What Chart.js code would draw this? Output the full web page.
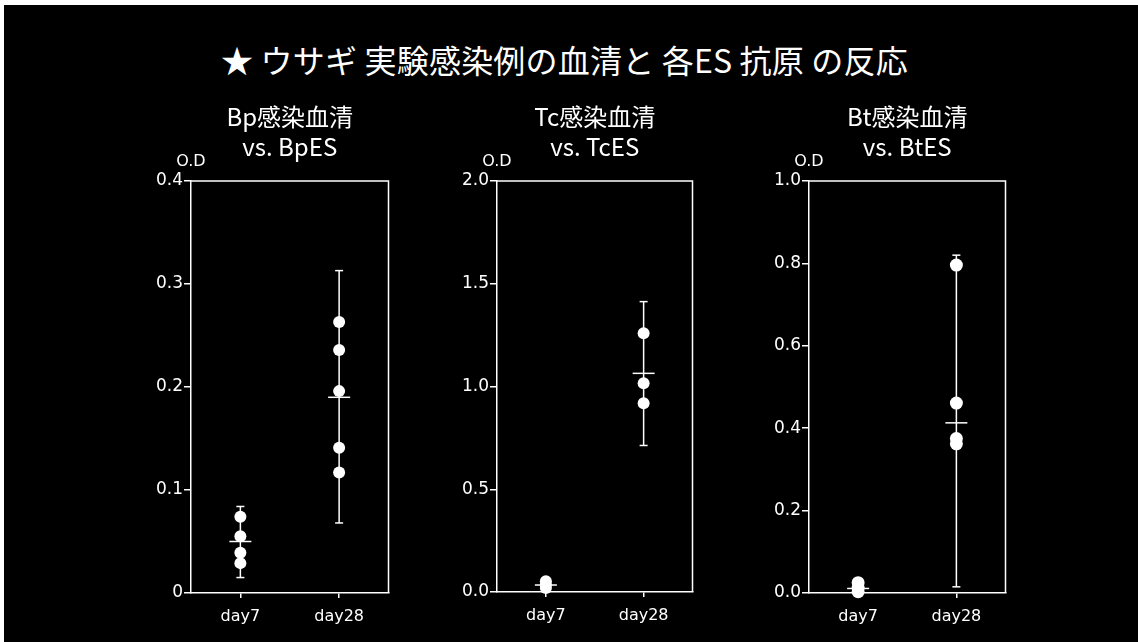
<!DOCTYPE html>
<html>
<head>
<meta charset="utf-8">
<script src="https://cdn.jsdelivr.net/npm/chart.js@4/dist/chart.umd.min.js"></script>
<style>
  html, body { margin: 0; padding: 0; background: #fff; width: 1138px; height: 642px; overflow: hidden; }
  #board { position: absolute; left: 4px; top: 5px; width: 1134px; height: 637px; background: #000; }
  #heading {
    position: absolute; left: 221px; top: 38px; white-space: nowrap;
    color: #fff; font: 32px/42px "Noto Sans CJK JP", sans-serif; letter-spacing: 0.2px;
  }
  canvas { position: absolute; }
</style>
</head>
<body>
<div id="board"></div>
<div id="heading">★ ウサギ 実験感染例の血清と 各ES 抗原 の反応</div>
<canvas id="bp" width="260" height="538" style="left:141px; top:90px;"></canvas>
<canvas id="tc" width="258" height="537" style="left:447px; top:90px;"></canvas>
<canvas id="bt" width="259" height="538" style="left:759px; top:90px;"></canvas>
<script>
const categories = ['day7', 'day28'];

// Bp serum vs. BpES
const bpTitle = ['Bp感染血清', 'vs. BpES'];
const bpDay7 = [0.074, 0.055, 0.039, 0.029];
const bpDay28 = [0.263, 0.236, 0.196, 0.141, 0.117];
const bpMean = [0.050, 0.190];
const bpLow = [0.015, 0.068];
const bpHigh = [0.084, 0.313];
const bpTicks = [0, 0.1, 0.2, 0.3, 0.4];
const bpTickLabels = ['0', '0.1', '0.2', '0.3', '0.4'];

// Tc serum vs. TcES
const tcTitle = ['Tc感染血清', 'vs. TcES'];
const tcDay7 = [0.052, 0.035, 0.020];
const tcDay28 = [1.259, 1.016, 0.918];
const tcMean = [0.034, 1.064];
const tcLow = [0.012, 0.713];
const tcHigh = [0.056, 1.413];
const tcTicks = [0, 0.5, 1.0, 1.5, 2.0];
const tcTickLabels = ['0.0', '0.5', '1.0', '1.5', '2.0'];

// Bt serum vs. BtES
const btTitle = ['Bt感染血清', 'vs. BtES'];
const btDay7 = [0.025, 0.012, 0.003];
const btDay28 = [0.796, 0.461, 0.375, 0.362];
const btMean = [0.011, 0.413];
const btLow = [0.002, 0.015];
const btHigh = [0.026, 0.820];
const btTicks = [0, 0.2, 0.4, 0.6, 0.8, 1.0];
const btTickLabels = ['0.0', '0.2', '0.4', '0.6', '0.8', '1.0'];

const WHITE = '#ffffff';

// Frame (top/right edges), panel heading and the "O.D" unit label
const panelDecor = {
  id: 'panelDecor',
  afterDraw(chart, args, opts) {
    const { ctx, chartArea: a } = chart;
    ctx.save();
    ctx.strokeStyle = WHITE;
    ctx.lineWidth = 1.5;
    ctx.beginPath();
    ctx.moveTo(a.left, a.top);
    ctx.lineTo(a.right, a.top);
    ctx.lineTo(a.right, a.bottom);
    ctx.stroke();
    ctx.fillStyle = WHITE;
    ctx.textAlign = 'center';
    ctx.textBaseline = 'middle';
    ctx.font = '24px "Noto Sans CJK JP", sans-serif';
    const cx = (a.left + a.right) / 2;
    opts.lines.forEach((t, i) => ctx.fillText(t, cx, a.top - 64 + i * 30));
    ctx.font = '16px "DejaVu Sans", sans-serif';
    ctx.fillText('O.D', a.left, a.top - 19);
    ctx.restore();
  }
};

function pointsOf(day7, day28) {
  return day7.map(v => ({ x: categories[0], y: v }))
    .concat(day28.map(v => ({ x: categories[1], y: v })));
}

function buildPanel(id, p) {
  const datasets = [];
  // mean markers (short horizontal bars)
  datasets.push({
    data: categories.map((c, i) => ({ x: c, y: p.mean[i] })),
    showLine: false, pointStyle: 'line', pointRadius: 11,
    pointBorderColor: WHITE, pointBorderWidth: 1.5, clip: false
  });
  // individual sera
  datasets.push({
    data: pointsOf(p.day7, p.day28),
    showLine: false, pointStyle: 'circle', pointRadius: p.radius,
    pointBackgroundColor: WHITE, pointBorderColor: WHITE, pointBorderWidth: 0, clip: false
  });
  // error bar caps
  datasets.push({
    data: categories.map((c, i) => ({ x: c, y: p.low[i] }))
      .concat(categories.map((c, i) => ({ x: c, y: p.high[i] }))),
    showLine: false, pointStyle: 'line', pointRadius: 4,
    pointBorderColor: WHITE, pointBorderWidth: 1.5, clip: false
  });
  // error bar stems
  categories.forEach((c, i) => {
    datasets.push({
      data: [{ x: c, y: p.low[i] }, { x: c, y: p.high[i] }],
      borderColor: WHITE, borderWidth: 1.5, pointRadius: 0, clip: false
    });
  });

  return new Chart(document.getElementById(id), {
    type: 'line',
    data: { labels: categories, datasets },
    options: {
      responsive: false,
      animation: false,
      events: [],
      layout: { padding: { top: 91, right: 10, left: 0, bottom: 0 } },
      plugins: {
        legend: { display: false },
        tooltip: { enabled: false },
        panelDecor: { lines: p.title }
      },
      scales: {
        x: {
          type: 'category',
          labels: categories,
          offset: true,
          afterFit(s) { s.height = 35; },
          border: { display: true, color: WHITE, width: 1.5 },
          grid: { display: true, offset: false, drawOnChartArea: false, tickLength: 5, color: WHITE, lineWidth: 1.5 },
          ticks: { color: WHITE, padding: 9, font: { family: '"DejaVu Sans", sans-serif', size: 16 } }
        },
        y: {
          min: p.ticks[0],
          max: p.ticks[p.ticks.length - 1],
          afterFit(s) { s.width = 50; },
          afterBuildTicks(s) { s.ticks = p.ticks.map(v => ({ value: v })); },
          border: { display: true, color: WHITE, width: 1.5, dash: p.leftDash || [] },
          grid: { display: true, drawOnChartArea: false, tickLength: 7, color: WHITE, lineWidth: 1.5 },
          ticks: {
            color: WHITE, padding: 1,
            font: { family: '"DejaVu Sans", sans-serif', size: 17 },
            callback: (v, i) => p.tickLabels[i]
          }
        }
      }
    },
    plugins: [panelDecor]
  });
}

buildPanel('bp', { title: bpTitle, day7: bpDay7, day28: bpDay28, mean: bpMean, low: bpLow, high: bpHigh,
  ticks: bpTicks, tickLabels: bpTickLabels, radius: 6 });
buildPanel('tc', { title: tcTitle, day7: tcDay7, day28: tcDay28, mean: tcMean, low: tcLow, high: tcHigh,
  ticks: tcTicks, tickLabels: tcTickLabels, radius: 6 });
buildPanel('bt', { title: btTitle, day7: btDay7, day28: btDay28, mean: btMean, low: btLow, high: btHigh,
  ticks: btTicks, tickLabels: btTickLabels, radius: 6.5, leftDash: [16, 4] });
</script>
</body>
</html>
